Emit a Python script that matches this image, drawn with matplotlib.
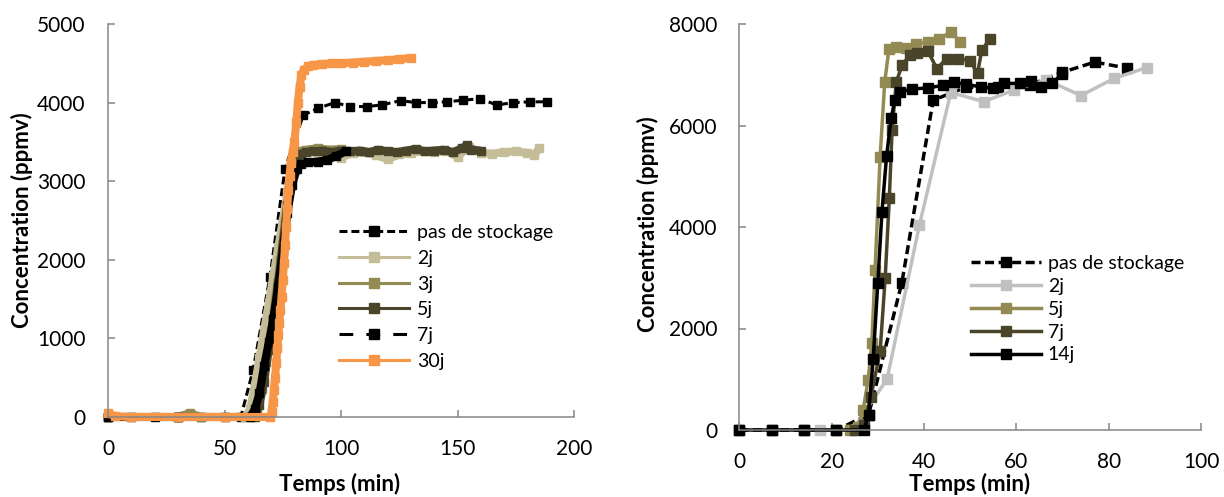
import matplotlib
matplotlib.use("Agg")
import matplotlib.pyplot as plt
from matplotlib.lines import Line2D

plt.rcParams['font.family'] = ['Lato', 'DejaVu Sans']

# ── left panel data ───────────────────────────────────────────────────────────
L_PAS_T = [0, 10, 20, 30, 40, 50, 57, 62.3, 69.5, 76, 83.8, 90.3, 97.4, 103.9, 111.3,
           117.4, 125.6, 132.2, 138.9, 145.4, 152.2, 159.7, 166.8, 174, 181.1, 188.3]
L_PAS_C = [0, 0, 0, 0, 0, 0, 0, 600, 1780, 3160, 3840, 3930, 4000, 3950, 3950,
           3970, 4025, 4000, 4000, 4010, 4030, 4050, 3970, 4000, 4010, 4010]

L_2J_T = [0, 30, 59, 61, 63, 65, 67, 69, 71, 73, 75, 77, 79, 81, 83, 86, 90, 95, 100,
          105, 110, 115, 120, 125, 130, 135, 140, 145, 150, 155, 160, 165, 170, 175,
          180, 183, 185]
L_2J_C = [0, 0, 0, 100, 400, 750, 1100, 1450, 1800, 2150, 2500, 2850, 3150, 3330, 3370,
          3380, 3370, 3400, 3300, 3360, 3370, 3330, 3280, 3340, 3360, 3380, 3370, 3390,
          3310, 3440, 3360, 3350, 3370, 3380, 3360, 3330, 3420]

L_3J_T = [0, 30, 35, 40, 62, 64, 66, 68, 70, 72, 74, 76, 78, 80, 82, 85, 90, 95, 100]
L_3J_C = [0, 0, 50, 0, 0, 100, 350, 700, 1100, 1550, 2000, 2500, 2950, 3250, 3380,
          3400, 3420, 3400, 3410]

L_5J_T = [0, 30, 63, 65, 67, 69, 71, 73, 75, 77, 79, 81, 83, 85, 88, 92, 96, 100, 104,
          108, 112, 116, 120, 124, 128, 132, 136, 140, 144, 148, 152, 154, 156, 160]
L_5J_C = [0, 0, 0, 150, 450, 850, 1250, 1700, 2200, 2700, 3100, 3300, 3350, 3370, 3380,
          3390, 3370, 3390, 3380, 3390, 3370, 3400, 3380, 3370, 3390, 3410, 3380, 3390,
          3400, 3370, 3420, 3460, 3400, 3390]

L_7J_T = [0, 30, 61, 63, 65, 67, 69, 71, 73, 75, 77, 79, 81, 83, 86, 90, 94, 98, 102]
L_7J_C = [0, 0, 0, 100, 300, 650, 950, 1250, 1650, 2100, 2600, 2950, 3150, 3220, 3240,
          3250, 3270, 3320, 3380]

L_30J_T = [0, 3, 10, 30, 50, 69.5, 70.2, 70.7, 71.2, 71.7, 72.2, 72.7, 73.1, 73.5, 74.0,
           74.5, 75.0, 75.5, 76.0, 76.4, 76.9, 77.4, 77.9, 78.4, 79.2, 80.0, 80.8, 81.5,
           82.2, 83.0, 84, 86, 88, 92, 96, 100, 105, 110, 115, 120, 125, 130]
L_30J_C = [50, 10, 0, 0, 0, 0, 60, 195, 340, 500, 690, 880, 1040, 1200, 1360, 1530, 1740,
           1960, 2190, 2420, 2650, 2890, 3060, 3230, 3370, 3500, 3750, 4000, 4200, 4350,
           4420, 4460, 4480, 4490, 4500, 4500, 4510, 4520, 4530, 4540, 4550, 4570]

# ── right panel data ──────────────────────────────────────────────────────────
R_PAS_T = [0, 7, 14, 21, 28, 35.2, 42, 49, 56, 63, 70, 77, 84]
R_PAS_C = [0, 0, 0, 0, 300, 2900, 6500, 6750, 6760, 6800, 7050, 7250, 7130]

R_2J_T = [17.5, 24.5, 32, 39, 45.8, 53, 59.5, 66.5, 74, 81.2, 88.2]
R_2J_C = [0, 0, 1000, 4030, 6650, 6470, 6700, 6900, 6590, 6930, 7140]

R_5J_T = [24, 25.8, 26.8, 27.9, 28.7, 29.4, 30.5, 31.5, 32.4, 34, 36, 38.3, 40.8, 43.3,
          45.8, 47.8]
R_5J_C = [0, 65, 390, 980, 1710, 3150, 5380, 6860, 7500, 7550, 7520, 7600, 7650, 7700,
          7850, 7650]

R_7J_T = [25, 27, 28.5, 30.5, 31.6, 32.5, 33.1, 34.0, 35.3, 37, 38.5, 40.8, 42.8, 44.9,
          47.4, 49.9, 51.6, 52.5, 54.2]
R_7J_C = [0, 100, 650, 1550, 3000, 4580, 5920, 6860, 7200, 7390, 7420, 7470, 7120, 7320,
          7320, 7280, 7030, 7480, 7700]

R_14J_T = [0, 7, 14, 21, 27, 28, 29, 30, 30.9, 31.9, 32.9, 33.7, 34.9, 37.4, 40.8, 44.1,
           46.6, 49.1, 52.4, 54.9, 57.4, 60.7, 63.2, 65.3, 67.8, 69.9]
R_14J_C = [0, 0, 0, 0, 0, 300, 1400, 2900, 4300, 5400, 6150, 6500, 6660, 6720, 6740, 6790,
           6850, 6810, 6760, 6740, 6830, 6830, 6870, 6760, 6830, 7020]

BLACK  = "#000000"
TAN    = "#c4bd97"
OLIVE  = "#948a54"
DARKOL = "#4a452a"
ORANGE = "#f79646"
GREY   = "#c0c0c0"
SPINE  = "#868686"

W, H = 1224, 497
fig = plt.figure(figsize=(W / 100, H / 100), dpi=100)


def px_axes(x0, y_top, x1, y_bot):
    return fig.add_axes([x0 / W, 1 - y_bot / H, (x1 - x0) / W, (y_bot - y_top) / H])


def style(ax):
    for s in ("top", "right"):
        ax.spines[s].set_visible(False)
    for s in ("left", "bottom"):
        ax.spines[s].set_color(SPINE)
        ax.spines[s].set_linewidth(1.1)
    ax.tick_params(direction="in", length=5, width=1.1, color=SPINE,
                   labelsize=15, pad=16)


DASH_PAS = (2.6, 1.3)
DASH_7J = (4.5, 4.3)

# ── left panel ────────────────────────────────────────────────────────────────
axl = px_axes(108, 24, 574, 417)
style(axl)
axl.plot(L_PAS_T, L_PAS_C, color=BLACK, lw=2.2, dashes=DASH_PAS, marker="s", ms=6,
         clip_on=False)
dense = [(L_2J_T, L_2J_C, TAN), (L_3J_T, L_3J_C, OLIVE), (L_5J_T, L_5J_C, DARKOL),
         (L_7J_T, L_7J_C, BLACK), (L_30J_T, L_30J_C, ORANGE)]
for t, c, col in dense:
    axl.plot(t, c, color=col, lw=5.8, marker="s", ms=6, solid_joinstyle="round",
             solid_capstyle="butt", clip_on=False)
axl.set_xlim(0, 200)
axl.set_ylim(0, 5000)
axl.set_xticks([0, 50, 100, 150, 200])
axl.set_yticks([0, 1000, 2000, 3000, 4000, 5000])

left_handles = [
    Line2D([], [], color=BLACK, lw=2.2, dashes=DASH_PAS, marker="s", ms=6.5),
    Line2D([], [], color=TAN, lw=2.2, marker="s", ms=6.5),
    Line2D([], [], color=OLIVE, lw=2.2, marker="s", ms=6.5),
    Line2D([], [], color=DARKOL, lw=2.2, marker="s", ms=6.5),
    Line2D([], [], color=BLACK, lw=2.2, dashes=DASH_7J, marker="s", ms=6.5),
    Line2D([], [], color=ORANGE, lw=2.2, marker="s", ms=6.5),
]
fig.legend(left_handles, ["pas de stockage", "2j", "3j", "5j", "7j", "30j"],
           loc="upper left", bbox_to_anchor=(339 / W, 1 - 224 / H),
           frameon=False, fontsize=14, handlelength=3.6, handletextpad=0.4,
           labelspacing=0.45, borderpad=0, borderaxespad=0)

# ── right panel ───────────────────────────────────────────────────────────────
axr = px_axes(739.3, 24, 1201, 430)
style(axr)
axr.plot(R_PAS_T, R_PAS_C, color=BLACK, lw=2.5, dashes=DASH_PAS, marker="s", ms=7,
         clip_on=False)
for t, c, col in [(R_2J_T, R_2J_C, GREY), (R_5J_T, R_5J_C, OLIVE),
                  (R_7J_T, R_7J_C, DARKOL), (R_14J_T, R_14J_C, BLACK)]:
    axr.plot(t, c, color=col, lw=2.5, marker="s", ms=7, clip_on=False)
axr.set_xlim(0, 100)
axr.set_ylim(0, 8000)
axr.set_xticks([0, 20, 40, 60, 80, 100])
axr.set_yticks([0, 2000, 4000, 6000, 8000])

right_handles = [
    Line2D([], [], color=BLACK, lw=2.5, dashes=DASH_PAS, marker="s", ms=7.5),
    Line2D([], [], color=GREY, lw=2.5, marker="s", ms=7.5),
    Line2D([], [], color=OLIVE, lw=2.5, marker="s", ms=7.5),
    Line2D([], [], color=DARKOL, lw=2.5, marker="s", ms=7.5),
    Line2D([], [], color=BLACK, lw=2.5, marker="s", ms=7.5),
]
fig.legend(right_handles, ["pas de stockage", "2j", "5j", "7j", "14j"],
           loc="upper left", bbox_to_anchor=(971 / W, 1 - 255 / H),
           frameon=False, fontsize=14, handlelength=3.6, handletextpad=0.35,
           labelspacing=0.3, borderpad=0, borderaxespad=0)

# axis titles
lab = dict(fontsize=16, fontweight="bold", ha="center", va="center")
fig.text(22 / W, 1 - 220 / H, "Concentration (ppmv)", rotation=90, **lab)
fig.text(340 / W, 1 - 484 / H, "Temps (min)", **lab)
fig.text(648 / W, 1 - 224 / H, "Concentration (ppmv)", rotation=90, **lab)
fig.text(970 / W, 1 - 484 / H, "Temps (min)", **lab)

fig.savefig("out.png", dpi=100)
